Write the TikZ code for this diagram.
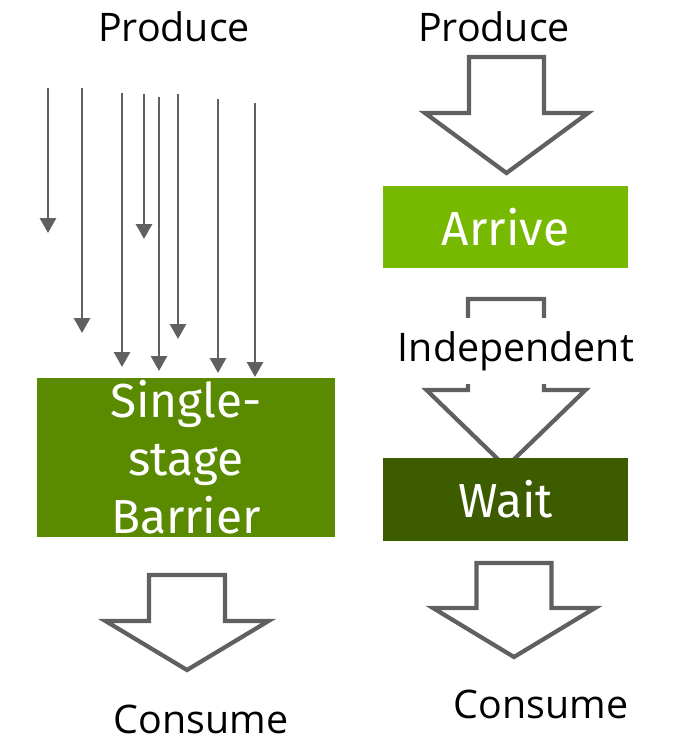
\documentclass[tikz,border=0pt]{standalone}
\usepackage{fontspec}
\setmainfont{Open Sans}
\newfontfamily\boxfont{Fira Sans}
\usetikzlibrary{arrows.meta}
\definecolor{arrivegreen}{RGB}{118,185,0}
\definecolor{barriergreen}{RGB}{89,138,0}
\definecolor{waitgreen}{RGB}{61,92,0}
\definecolor{arrowgray}{RGB}{96,96,96}

% hollow block arrow: centre x, top y, shoulder y, tip y, shaft half width, head half width
\newcommand{\hollowarrow}[6]{%
  \draw[blockarrow] (#1-#5,#2) -- (#1+#5,#2) -- (#1+#5,#3) -- (#1+#6,#3)
    -- (#1,#4) -- (#1-#6,#3) -- (#1-#5,#3) -- cycle;}

\begin{document}
\begin{tikzpicture}[x=0.025cm, y=-0.025cm]
        \tikzset{label/.style={font=\fontsize{28}{32}\selectfont, anchor=base, inner sep=0pt},
                stagebox/.style={font=\boxfont\fontsize{34}{41.3}\selectfont, text=white,
                    align=center, inner sep=0pt},
                thinarrow/.style={draw=arrowgray, line width=2.1pt,
                    -{Triangle[length=0.375cm, width=0.4cm]}},
                blockarrow/.style={draw=arrowgray, line width=3pt, fill=white, line join=miter}}
        \useasboundingbox (0,0) rectangle (684,744);

        % left: many producers into one barrier
        \node[label] (prodL) at (174,41) {Produce};
        \foreach \x/\ys/\ye [count=\i] in {48/88/233, 82/88/333, 122/93/367, 144/94/239,
                159/97/371, 178/94/339, 218/99/373, 255/103/377} {
            \coordinate (s\i) at (\x,\ys);
            \coordinate (e\i) at (\x,\ye);
            \draw[thinarrow] (s\i) -- (e\i);
        }
        \node[stagebox, fill=barriergreen, minimum width=298*0.025cm, minimum height=159*0.025cm]
            (barrier) at (186,457.5) {Single-\\stage\\Barrier};
        \hollowarrow{187}{575}{621}{670}{38}{81.5}
        \node[label] (consL) at (201,733) {Consume};

        % right: split arrive / wait
        \node[label] (prodR) at (494,41) {Produce};
        \hollowarrow{506.5}{57}{113}{173}{37.5}{81.5}
        \node[stagebox, fill=arrivegreen, minimum width=245*0.025cm, minimum height=82*0.025cm]
            (arrive) at (505.5,227) {Arrive};
        \hollowarrow{506}{299}{390}{467}{38}{79.5}
        \node[label, fill=white, inner xsep=2pt, inner ysep=0.33cm] (indep) at (516,361) {Independent};
        \node[stagebox, fill=waitgreen, minimum width=245*0.025cm, minimum height=83*0.025cm]
            (wait) at (505.5,499.5) {Wait};
        \hollowarrow{514}{563}{608}{657}{37.5}{81}
        \node[label] (consR) at (541,718) {Consume};

    \end{tikzpicture}
\end{document}
